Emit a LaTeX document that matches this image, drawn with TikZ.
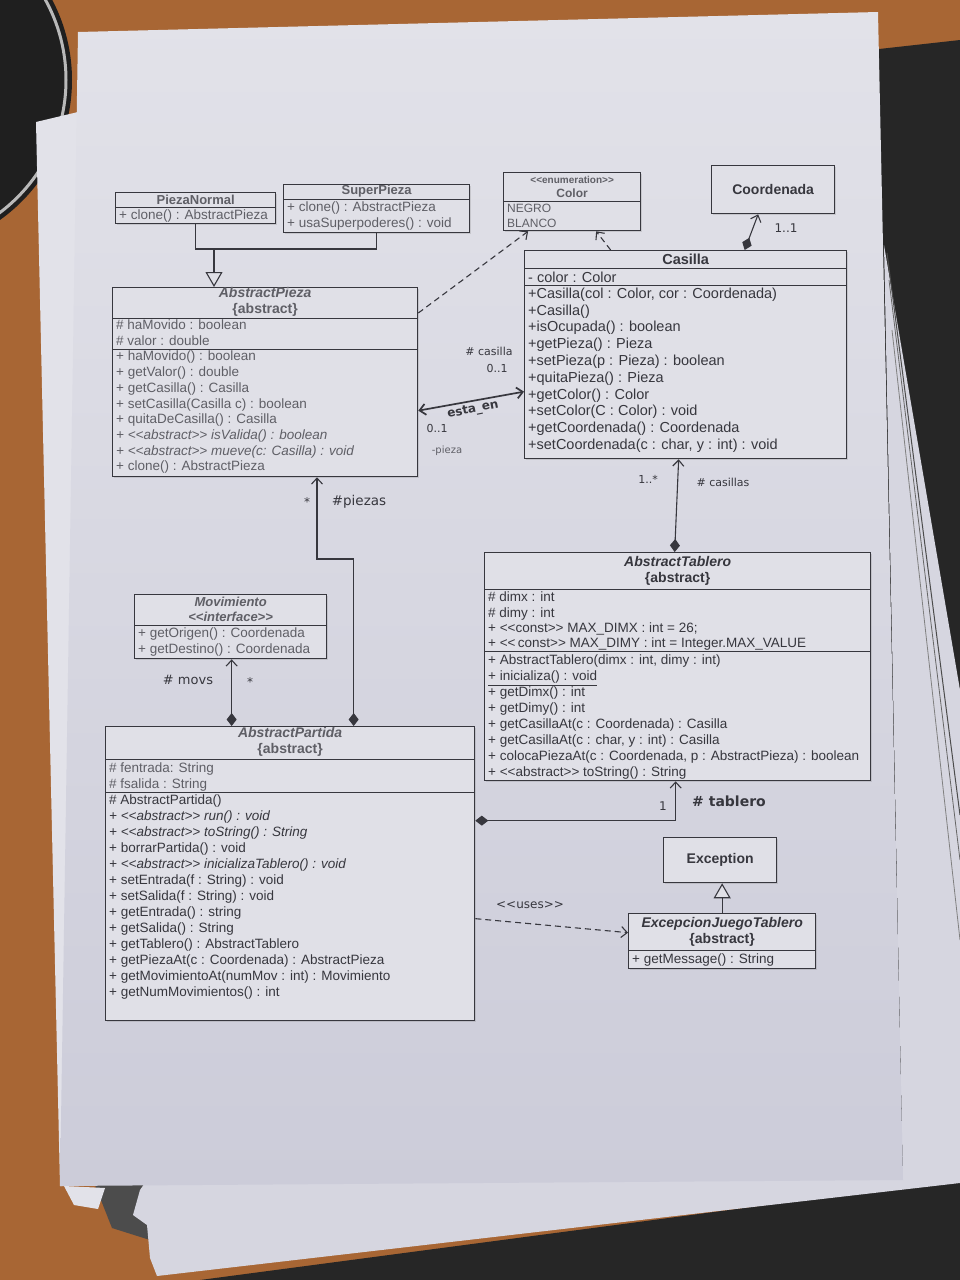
\documentclass[tikz,border=0pt]{standalone}
\usepackage{fontspec}
\setmainfont{Liberation Sans}
\newfontfamily\lblfont{DejaVu Sans}
\usetikzlibrary{arrows.meta, shadows}
\newcommand{\ster}[1]{<\kern0pt<#1>\kern0pt>}
\definecolor{desk}{RGB}{168,102,52}
\definecolor{paperTop}{RGB}{226,226,233}
\definecolor{paperBot}{RGB}{204,204,217}
\definecolor{paperBack}{RGB}{214,214,224}
\definecolor{boxfill}{RGB}{224,224,231}
\definecolor{ink}{RGB}{55,55,62}
\definecolor{inkfade}{RGB}{95,95,102}

\begin{document}
\begin{tikzpicture}[x=1pt, y=-1pt,
	classbox/.style={draw=ink, line width=1.3pt, fill=boxfill, anchor=north west, inner sep=0pt,
		drop shadow={opacity=0.25, shadow xshift=1.5pt, shadow yshift=-1.5pt}},
	title/.style={font=\bfseries\fontsize{14}{16}\selectfont, text=ink, align=center, inner sep=0pt},
	members/.style={font=\fontsize{13.5}{15.7}\selectfont, text=ink, align=left, anchor=north west, inner sep=0pt},
	div/.style={draw=ink, line width=1pt},
	lbl/.style={font=\lblfont\fontsize{12}{14}\selectfont, text=ink, inner sep=1pt},
	assoc/.style={draw=ink, line width=1.1pt},
	comp/.style={assoc, {Diamond[length=13pt,width=10pt]}-{Straight Barb[length=6pt,width=11pt]}},
	gen/.style={assoc, -{Triangle[length=15pt,width=17pt,fill=boxfill]}},
	dep/.style={assoc, dash pattern=on 6pt off 4pt, -{Straight Barb[length=6pt,width=11pt]}}]
	\useasboundingbox (0,0) rectangle (960,1280);

	% desk, cup and sheets
	\fill[desk] (0,0) rectangle (960,1280);
	\fill[black!88] (-100,80) circle (172);
	\draw[gray!55, line width=3pt] (-100,80) circle (166);
	\fill[black!85] (870,50) -- (960,40) -- (960,1280) -- (200,1280) -- (880,1190) -- cycle;
	\fill[black!70] (95,1185) -- (150,1185) -- (150,1240) -- (112,1228) -- cycle;
	\fill[paperBack] (147,1180) -- (960,1165) -- (960,1183) -- (157,1276) -- (150,1258) -- (147,1225) -- (133,1215) -- (140,1190) -- cycle;
	\fill[paperBack] (884,245) -- (960,690) -- (960,1175) -- (903,1182) -- cycle;
	\draw[black!70, line width=1pt] (887,253) -- (960,815);
	\draw[black!60, line width=0.8pt] (889,280) -- (960,860);
	\draw[black!50, line width=0.8pt] (892,330) -- (960,940);
	\fill[paperTop] (36,122) -- (78,112) -- (78,1186) -- (60,1186) -- cycle;
	\shade[top color=paperTop, bottom color=paperBot] (78,32) -- (878,12) -- (903,1180) -- (60,1186) -- cycle;
	\fill[paperTop] (64,1186) -- (105,1188) -- (98,1209) -- (74,1205) -- cycle;

	% PiezaNormal
	\node[classbox, minimum width=160pt, minimum height=31pt] (pnormal) at (115,192) {};
	\node[title, font=\bfseries\fontsize{13}{15}\selectfont, text=inkfade] (pnormalT) at ([yshift=-7.5pt]pnormal.north) {PiezaNormal};
	\draw[div] ([yshift=-15pt]pnormal.north west) -- ([yshift=-15pt]pnormal.north east);
	\node[members, text=inkfade] (pnormalM) at ([xshift=4pt,yshift=-18pt]pnormal.north west) {+ clone() : AbstractPieza};

	% SuperPieza
	\node[classbox, minimum width=186pt, minimum height=48pt] (spieza) at (283,184) {};
	\node[title, font=\bfseries\fontsize{13}{15}\selectfont, text=inkfade] (spiezaT) at ([yshift=-7.5pt]spieza.north) {SuperPieza};
	\draw[div] ([yshift=-15pt]spieza.north west) -- ([yshift=-15pt]spieza.north east);
	\node[members, text=inkfade, font=\fontsize{13.5}{16}\selectfont] (spiezaM) at ([xshift=4pt,yshift=-18pt]spieza.north west)
		{+ clone() : AbstractPieza\\+ usaSuperpoderes() : void};

	% AbstractPieza
	\node[classbox, minimum width=305pt, minimum height=189pt] (apieza) at (112,287) {};
	\node[title, text=inkfade] (apiezaT) at ([yshift=-14.5pt]apieza.north) {\textit{AbstractPieza}\\\{abstract\}};
	\draw[div] ([yshift=-31pt]apieza.north west) -- ([yshift=-31pt]apieza.north east);
	\node[members, text=inkfade] (apiezaA) at ([xshift=4pt,yshift=-33pt]apieza.north west)
		{\# haMovido : boolean\\\# valor : double};
	\draw[div] ([yshift=-62pt]apieza.north west) -- ([yshift=-62pt]apieza.north east);
	\node[members, text=inkfade] (apiezaM) at ([xshift=4pt,yshift=-64pt]apieza.north west)
		{+ haMovido() : boolean\\+ getValor() : double\\+ getCasilla() : Casilla\\+ setCasilla(Casilla c) : boolean\\
		+ quitaDeCasilla() : Casilla\\\textit{+ \ster{abstract} isValida() : boolean}\\
		\textit{+ \ster{abstract} mueve(c: Casilla) : void}\\+ clone() : AbstractPieza};

	% Color
	\node[classbox, minimum width=137pt, minimum height=58pt] (color) at (503,172) {};
	\node[title, font=\bfseries\fontsize{12}{14}\selectfont, text=inkfade] (colorT) at ([yshift=-15pt]color.north)
		{{\fontsize{10}{12}\selectfont\ster{enumeration}}\\Color};
	\draw[div] ([yshift=-29pt]color.north west) -- ([yshift=-29pt]color.north east);
	\node[members, text=inkfade, font=\fontsize{12}{15}\selectfont] (colorM) at ([xshift=4pt,yshift=-32pt]color.north west)
		{NEGRO\\BLANCO};

	% Coordenada
	\node[classbox, title, minimum width=123pt, minimum height=48pt] (coord) at (711,165) {Coordenada};

	% Casilla
	\node[classbox, minimum width=322pt, minimum height=208pt] (casilla) at (524,250) {};
	\node[title, font=\bfseries\fontsize{14.5}{16}\selectfont] (casillaT) at ([yshift=-9pt]casilla.north) {Casilla};
	\draw[div] ([yshift=-18pt]casilla.north west) -- ([yshift=-18pt]casilla.north east);
	\node[members, font=\fontsize{14.5}{16.8}\selectfont] (casillaA) at ([xshift=4pt,yshift=-21.5pt]casilla.north west)
		{- color : Color};
	\draw[div] ([yshift=-35pt]casilla.north west) -- ([yshift=-35pt]casilla.north east);
	\node[members, font=\fontsize{14.5}{16.8}\selectfont] (casillaM) at ([xshift=4pt,yshift=-37.5pt]casilla.north west)
		{+Casilla(col : Color, cor : Coordenada)\\+Casilla()\\+isOcupada() : boolean\\+getPieza() : Pieza\\
		+setPieza(p : Pieza) : boolean\\+quitaPieza() : Pieza\\+getColor() : Color\\+setColor(C : Color) : void\\
		+getCoordenada() : Coordenada\\+setCoordenada(c : char, y : int) : void};

	% AbstractTablero
	\node[classbox, minimum width=386pt, minimum height=228pt] (tablero) at (484,552) {};
	\node[title] (tableroT) at ([yshift=-19pt]tablero.north) {\textit{AbstractTablero}\\\{abstract\}};
	\draw[div] ([yshift=-37pt]tablero.north west) -- ([yshift=-37pt]tablero.north east);
	\node[members, font=\fontsize{13.5}{15.3}\selectfont] (tableroA) at ([xshift=4pt,yshift=-40pt]tablero.north west)
		{\# dimx : int\\\# dimy : int\\+ \ster{const} MAX\_DIMX : int = 26;\\+ \ster{\,const} MAX\_DIMY : int = Integer.MAX\_VALUE};
	\draw[div] ([yshift=-99pt]tablero.north west) -- ([yshift=-99pt]tablero.north east);
	\node[members, font=\fontsize{13.5}{15.9}\selectfont] (tableroM) at ([xshift=4pt,yshift=-103pt]tablero.north west)
		{+ AbstractTablero(dimx : int, dimy : int)\\\underline{+ inicializa() : void}\\+ getDimx() : int\\+ getDimy() : int\\
		+ getCasillaAt(c : Coordenada) : Casilla\\+ getCasillaAt(c : char, y : int) : Casilla\\
		+ colocaPiezaAt(c : Coordenada, p : AbstractPieza) : boolean\\+ \ster{abstract} toString() : String};

	% Movimiento
	\node[classbox, minimum width=192pt, minimum height=64pt] (movim) at (134,594) {};
	\node[title, font=\bfseries\itshape\fontsize{13}{15.5}\selectfont, text=inkfade] (movimT) at ([yshift=-15.5pt]movim.north)
		{Movimiento\\\ster{interface}};
	\draw[div] ([yshift=-31pt]movim.north west) -- ([yshift=-31pt]movim.north east);
	\node[members, text=inkfade, font=\fontsize{13.5}{16}\selectfont] (movimM) at ([xshift=4pt,yshift=-34pt]movim.north west)
		{+ getOrigen() : Coordenada\\+ getDestino() : Coordenada};

	% AbstractPartida
	\node[classbox, minimum width=369pt, minimum height=294pt] (partida) at (105,726) {};
	\node[title, text=inkfade] (partidaT) at ([yshift=-16pt]partida.north) {\textit{AbstractPartida}\\\{abstract\}};
	\draw[div] ([yshift=-33pt]partida.north west) -- ([yshift=-33pt]partida.north east);
	\node[members, text=inkfade, font=\fontsize{13.5}{16}\selectfont] (partidaA) at ([xshift=4pt,yshift=-37pt]partida.north west)
		{\# fentrada: String\\\# fsalida : String};
	\draw[div] ([yshift=-66pt]partida.north west) -- ([yshift=-66pt]partida.north east);
	\node[members, font=\fontsize{13.5}{16}\selectfont] (partidaM) at ([xshift=4pt,yshift=-69pt]partida.north west)
		{\# AbstractPartida()\\\textit{+ \ster{abstract} run() : void}\\\textit{+ \ster{abstract} toString() : String}\\
		+ borrarPartida() : void\\\textit{+ \ster{abstract} inicializaTablero() : void}\\+ setEntrada(f : String) : void\\
		+ setSalida(f : String) : void\\+ getEntrada() : string\\+ getSalida() : String\\+ getTablero() : AbstractTablero\\
		+ getPiezaAt(c : Coordenada) : AbstractPieza\\+ getMovimientoAt(numMov : int) : Movimiento\\+ getNumMovimientos() : int};

	% Exception
	\node[classbox, title, minimum width=113pt, minimum height=45pt] (excep) at (663,837) {Exception};

	% ExcepcionJuegoTablero
	\node[classbox, minimum width=187pt, minimum height=55pt] (excjt) at (628,913) {};
	\node[title] (excjtT) at ([yshift=-18.5pt]excjt.north) {\textit{ExcepcionJuegoTablero}\\\{abstract\}};
	\draw[div] ([yshift=-37pt]excjt.north west) -- ([yshift=-37pt]excjt.north east);
	\node[members] (excjtM) at ([xshift=4pt,yshift=-41pt]excjt.north west) {+ getMessage() : String};

	% generalizations
	\coordinate (genj) at (214,249);
	\draw[assoc] (pnormal.south) |- (genj);
	\draw[assoc] (spieza.south) |- (genj);
	\draw[gen] (genj) -- (genj |- apieza.north);
	\draw[gen] (excjt.north) -- (excjt.north |- excep.south);

	% dependencies
	\draw[dep] ([yshift=-26pt]apieza.north east) -- ([xshift=-44pt]color.south);
	\draw[dep] ([xshift=-75pt]casilla.north) -- ([xshift=24pt]color.south);
	\draw[dep] ([yshift=-45pt]partida.east) -- ([yshift=8.5pt]excjt.west);
	\node[lbl] (usesL) at (530,905) {\ster{uses}};

	% associations
	\draw[comp] ([xshift=59pt]casilla.north) -- ([xshift=-15pt]coord.south);
	\node[lbl] (coordL) at (786,228) {1..1};

	\draw[assoc, line width=1.7pt, {Straight Barb[length=6pt,width=11pt]}-{Straight Barb[length=6pt,width=11pt]}]
		([yshift=-28.5pt]apieza.east) -- ([yshift=-37pt]casilla.west);
	\node[lbl, font=\lblfont\fontsize{11}{13}\selectfont] (casillaL) at (489,351) {\# casilla};
	\node[lbl, font=\lblfont\fontsize{11}{13}\selectfont] (casillaN) at (497,368) {0..1};
	\node[lbl, font=\lblfont\bfseries\fontsize{12}{14}\selectfont, rotate=11] (estaL) at (473,410) {esta\_en};
	\node[lbl, font=\lblfont\fontsize{11}{13}\selectfont] (piezaN) at (437,428) {0..1};
	\node[lbl, font=\lblfont\fontsize{10}{12}\selectfont, text=inkfade] (piezaL) at (447,451) {-pieza};

	\draw[comp] ([xshift=-3pt]tablero.north) -- ([xshift=-7pt]casilla.south);
	\node[lbl, font=\lblfont\fontsize{11}{13}\selectfont] (casillasN) at (648,479) {1..*};
	\node[lbl, font=\lblfont\fontsize{11}{13}\selectfont] (casillasL) at (723,482) {\# casillas};

	\coordinate (bendP) at (317,559);
	\draw[comp] ([xshift=63.5pt]partida.north) |- (bendP) -- (bendP |- apieza.south);
	\node[lbl] (piezasN) at (307,502) {*};
	\node[lbl, font=\lblfont\fontsize{13.5}{15}\selectfont] (piezasL) at (359,502) {\#piezas};

	\draw[comp] ([xshift=-58.5pt]partida.north) -- ([xshift=1pt]movim.south);
	\node[lbl, font=\lblfont\fontsize{13}{15}\selectfont] (movsL) at (188,680) {\# movs};
	\node[lbl] (movsN) at (250,682) {*};

	\draw[comp] ([yshift=53pt]partida.east) -| ([xshift=-2pt]tablero.south);
	\node[lbl] (tableroN) at (663,806) {1};
	\node[lbl, font=\lblfont\bfseries\fontsize{14}{16}\selectfont] (tableroL) at (729,801) {\# tablero};
\end{tikzpicture}
\end{document}
